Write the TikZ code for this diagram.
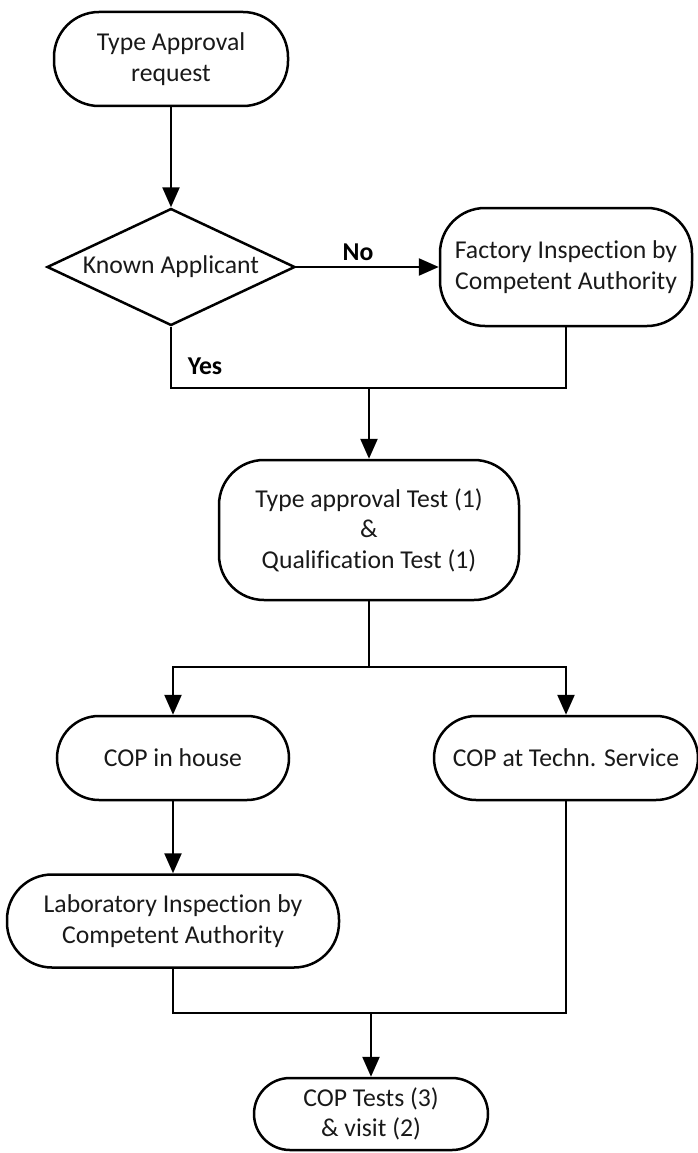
\documentclass[tikz,border=0pt]{standalone}
\usepackage{fontspec}
\setmainfont{Carlito}[Ligatures=NoCommon]
\usetikzlibrary{shapes.geometric,arrows.meta}
\begin{document}
\begin{tikzpicture}[x=1pt,y=-1pt,
  txt/.style={font=\fontsize{25.7}{30.5}\selectfont,text=black!90},
  box/.style={txt,draw=black,line width=2.5pt,rounded corners=45pt,align=center,inner sep=0pt},
  dec/.style={txt,draw=black,diamond,aspect=2.1,inner sep=0pt,line width=2.5pt},
  conn/.style={line width=2.5pt},
  arr/.style={conn,-{Triangle[length=20pt,width=17pt]}},
  lbl/.style={font=\fontsize{25.7}{30}\selectfont\bfseries,text=black,inner sep=0pt}]
\useasboundingbox (0,0) rectangle (698,1153);

\node[box,minimum width=234pt,minimum height=94pt] (req) at (171,59) {Type Approval\\request};
\node[dec,minimum width=248pt,minimum height=117pt] (known) at (171,267) {Known Applicant};
\node[box,minimum width=252pt,minimum height=118pt] (fact) at (566,267) {Factory Inspection by\\Competent Authority};
\node[box,minimum width=300pt,minimum height=140pt] (ta) at (369,530) {Type approval Test (1)\\\&\\Qualification Test (1)};
\node[box,rounded corners=42pt,minimum width=232pt,minimum height=84pt] (coph) at (173,758) {COP in house};
\node[box,rounded corners=42pt,minimum width=264pt,minimum height=84pt] (copt) at (566,758) {COP at Techn. Service};
\node[box,minimum width=332pt,minimum height=93pt] (lab) at (173,921) {Laboratory Inspection by\\Competent Authority};
\node[box,rounded corners=36pt,minimum width=234pt,minimum height=72pt] (fin) at (371,1114) {COP Tests (3)\\\& visit (2)};

\coordinate (m1) at (369,388);
\coordinate (m2) at (369,667);
\coordinate (m3) at (371,1013);

\draw[arr] (req.south) -- (known.north);
\draw[arr] (known.east) -- (fact.west);
\node[lbl] (no) at (358,252) {No};
\draw[conn] (known.south) |- (m1) -| (fact.south);
\node[lbl] (yes) at (205,366) {Yes};
\draw[arr] (m1) -- (ta.north);
\draw[conn] (ta.south) -- (m2);
\draw[arr] (m2) -| (coph.north);
\draw[arr] (m2) -| (copt.north);
\draw[arr] (coph.south) -- (lab.north);
\draw[conn] (lab.south) |- (m3) -| (copt.south);
\draw[arr] (m3) -- (fin.north);
\end{tikzpicture}
\end{document}
